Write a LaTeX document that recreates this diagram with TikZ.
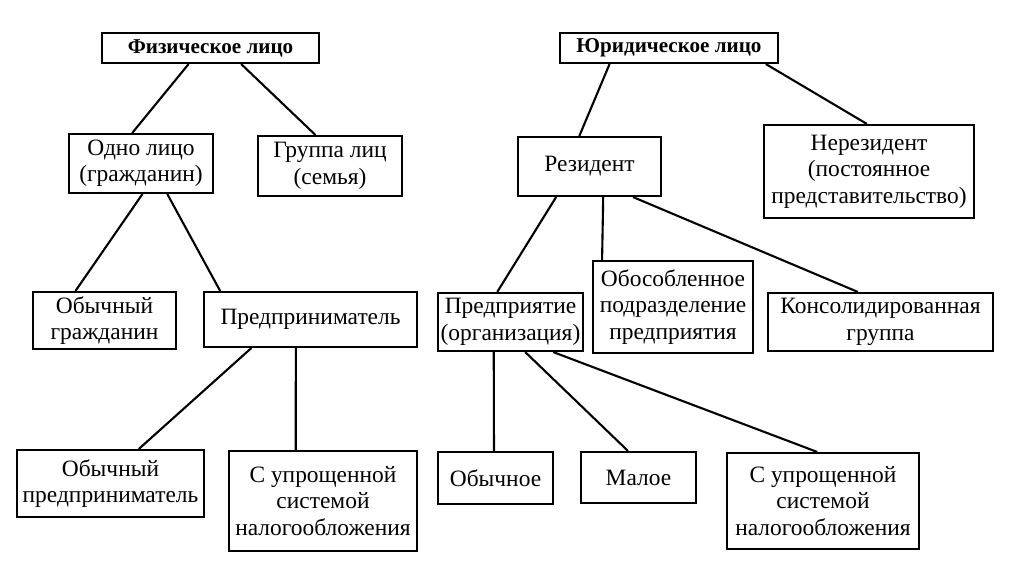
\documentclass[tikz,border=0pt]{standalone}
\usepackage{fontspec}
\setmainfont{Liberation Serif}
\usetikzlibrary{calc}

\begin{document}
\begin{tikzpicture}[x=0.3mm,y=-0.3mm,line width=1.8pt,
    box/.style={draw,align=center,inner sep=1pt,
      font=\fontsize{20}{22.5}\selectfont},
    head/.style={box,font=\fontsize{18}{22}\selectfont\bfseries}]
  \useasboundingbox (0,0) rectangle (1024,576);

  \node[head,minimum width=65.1mm,minimum height=9mm] (phys) at (210.5,48) {Физическое лицо};
  \node[head,minimum width=65.4mm,minimum height=9mm] (jur) at (669,48) {Юридическое лицо};

  \node[box,minimum width=43.2mm,minimum height=17.7mm] (one) at (141,163.5) {Одно лицо\\(гражданин)};
  \node[box,minimum width=43.2mm,minimum height=18mm] (group) at (330,166) {Группа лиц\\(семья)};
  \node[box,minimum width=42.9mm,minimum height=17.7mm] (res) at (589.5,166.5) {Резидент};
  \node[box,minimum width=63mm,minimum height=27.9mm] (nonres) at (869,171.5) {Нерезидент\\(постоянное\\представительство)};

  \node[box,minimum width=42.9mm,minimum height=17.1mm] (citizen) at (104.5,320.5) {Обычный\\гражданин};
  \node[box,minimum width=63.9mm,minimum height=16.5mm] (entr) at (310.5,319.5) {Предприниматель};
  \node[box,minimum width=43.5mm,minimum height=17.4mm] (firm) at (510.5,322) {Предприятие\\(организация)};
  \node[box,minimum width=48mm,minimum height=27.6mm] (branch) at (673,307) {Обособленное\\подразделение\\предприятия};
  \node[box,minimum width=67.5mm,minimum height=17.4mm] (consol) at (880.5,322) {Консолидированная\\группа};

  \node[box,minimum width=56.1mm,minimum height=20.1mm] (plainent) at (110.5,483.5) {Обычный\\предприниматель};
  \node[box,minimum width=56.4mm,minimum height=30mm] (simpleL) at (323,501) {С упрощенной\\системой\\налогообложения};
  \node[box,minimum width=34.5mm,minimum height=15.6mm] (usual) at (495.5,478) {Обычное};
  \node[box,minimum width=34.5mm,minimum height=15.3mm] (small) at (638.5,477.5) {Малое};
  \node[box,minimum width=57.6mm,minimum height=28.8mm] (simpleR) at (823,501) {С упрощенной\\системой\\налогообложения};

  \foreach \a/\fa/\b/\fb in {phys/0.40/one/0.44, phys/0.64/group/0.40,
      one/0.51/citizen/0.30, one/0.68/entr/0.08,
      entr/0.225/plainent/0.65, entr/0.4319/simpleL/0.3564,
      jur/0.23/res/0.43, jur/0.94/nonres/0.49,
      res/0.27/firm/0.41, res/0.5944/branch/0.0625, res/0.80/consol/0.40,
      firm/0.3862/usual/0.487, firm/0.60/small/0.41, firm/0.79/simpleR/0.47}
    \draw ($(\a.south west)!\fa!(\a.south east)$) -- ($(\b.north west)!\fb!(\b.north east)$);
\end{tikzpicture}
\end{document}
